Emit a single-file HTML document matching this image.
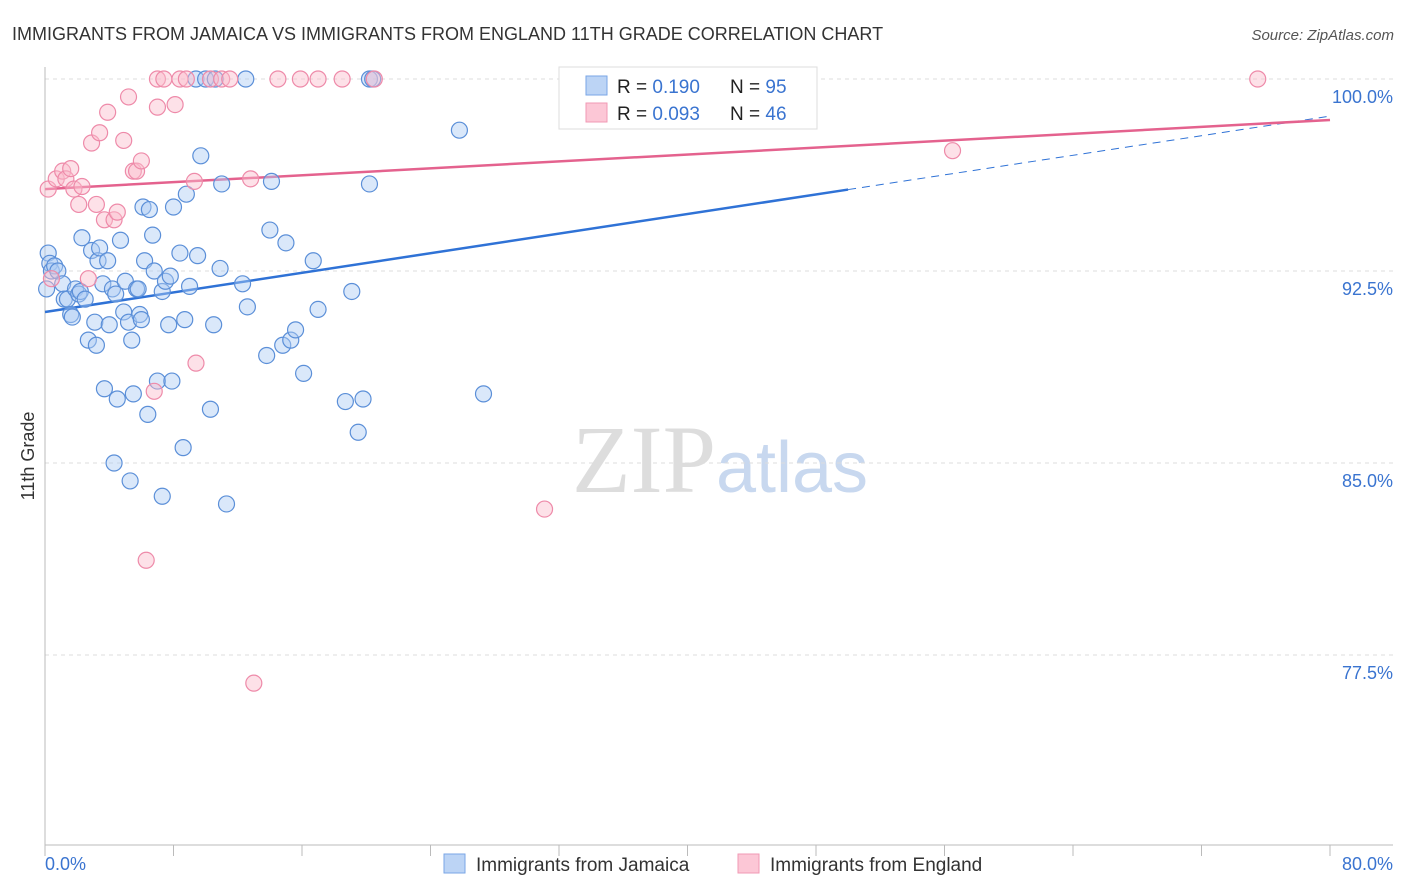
<!DOCTYPE html>
<html><head><meta charset="utf-8"><style>
body{margin:0;background:#fff;font-family:"Liberation Sans",sans-serif}
svg{display:block}
</style></head><body>
<svg id="c" width="1406" height="892" xmlns="http://www.w3.org/2000/svg">
<text x="12" y="40" font-size="18" fill="#333">IMMIGRANTS FROM JAMAICA VS IMMIGRANTS FROM ENGLAND 11TH GRADE CORRELATION CHART</text>
<text x="1394" y="40" font-size="15" fill="#555" text-anchor="end" font-style="italic">Source: ZipAtlas.com</text>
<text x="720" y="492" font-size="96" fill="#ddd" text-anchor="middle" font-family="Liberation Serif">ZIP<tspan fill="#c8d8ef" font-family="Liberation Sans" font-size="72">atlas</tspan></text>
<g id="grid"></g>
<g id="axes"></g>
<g id="lines"></g>
<g id="pts"></g>
<text transform="translate(34,456) rotate(-90)" font-size="18" fill="#333" text-anchor="middle">11th Grade</text>
<text x="45" y="870" font-size="18" fill="#3a74d0">0.0%</text>
<text x="1393" y="870" font-size="18" fill="#3a74d0" text-anchor="end">80.0%</text>
<g>
<rect x="559" y="67" width="258" height="62" fill="#fff" stroke="#ddd"/>
<rect x="586" y="76" width="21" height="19" fill="#bcd4f5" stroke="#7aa6e6"/>
<rect x="586" y="103" width="21" height="19" fill="#fcc7d6" stroke="#f199b4"/>
<text x="617" y="93" font-size="19" fill="#222">R = <tspan fill="#3a74d0">0.190</tspan></text>
<text x="730" y="93" font-size="19" fill="#222">N = <tspan fill="#3a74d0">95</tspan></text>
<text x="617" y="120" font-size="19" fill="#222">R = <tspan fill="#3a74d0">0.093</tspan></text>
<text x="730" y="120" font-size="19" fill="#222">N = <tspan fill="#3a74d0">46</tspan></text>
</g>
<g>
<rect x="444" y="854" width="21" height="19" fill="#bcd4f5" stroke="#7aa6e6"/>
<text x="476" y="871" font-size="19" fill="#333">Immigrants from Jamaica</text>
<rect x="738" y="854" width="21" height="19" fill="#fcc7d6" stroke="#f199b4"/>
<text x="770" y="871" font-size="19" fill="#333">Immigrants from England</text>
</g>
</svg>
<script>
const yTicks=[100,92.5,85,77.5];
const yTickLabels=["100.0%","92.5%","85.0%","77.5%"];
const blueX=[0.2,0.3,0.1,0.4,0.6,0.8,1.1,1.2,1.4,1.6,1.7,1.9,2.1,2.2,2.3,2.5,2.7,2.9,3.1,3.2,3.3,3.4,3.6,3.7,3.9,4.0,4.2,4.3,4.4,4.5,4.7,4.9,5.0,5.2,5.3,5.4,5.5,5.7,5.8,5.9,6.0,6.1,6.2,6.4,6.5,6.7,6.8,7.0,7.3,7.3,7.5,7.7,7.8,7.9,8.0,8.4,8.6,8.7,8.8,9.0,9.4,9.5,9.7,10.0,10.3,10.5,10.6,10.9,11.0,11.3,12.3,12.5,12.6,13.8,14.0,14.1,14.8,15.0,15.3,15.6,16.1,16.7,17.0,18.7,19.1,19.5,19.8,20.2,20.2,20.4,25.8,27.3,42.7];
const blueY=[93.2,92.8,91.8,92.5,92.7,92.5,92.0,91.4,91.4,90.8,90.7,91.8,91.6,91.7,93.8,91.4,89.8,93.3,90.5,89.6,92.9,93.4,92.0,87.9,92.9,90.4,91.8,85.0,91.6,87.5,93.7,90.9,92.1,90.5,84.3,89.8,87.7,91.8,91.8,90.8,90.6,95.0,92.9,86.9,94.9,93.9,92.5,88.2,91.7,83.7,92.1,90.4,92.3,88.2,95.0,93.2,85.6,90.6,95.5,91.9,100,93.1,97.0,100,87.1,90.4,100,92.6,95.9,83.4,92.0,100,91.1,89.2,94.1,96.0,89.6,93.6,89.8,90.2,88.5,92.9,91.0,87.4,91.7,86.2,87.5,95.9,100,100,98.0,87.7,100];
const pinkX=[0.2,0.4,0.7,1.1,1.3,1.6,1.8,2.1,2.3,2.7,2.9,3.2,3.4,3.7,3.9,4.3,4.5,4.9,5.2,5.5,5.7,6.0,6.3,6.8,7.0,7.0,7.4,8.1,8.4,8.8,9.3,9.4,10.3,11.0,11.5,12.8,13.0,14.5,15.9,17.0,18.5,20.5,31.1,33.1,56.5,75.5];
const pinkY=[95.7,92.2,96.1,96.4,96.1,96.5,95.7,95.1,95.8,92.2,97.5,95.1,97.9,94.5,98.7,94.5,94.8,97.6,99.3,96.4,96.4,96.8,81.2,87.8,100,98.9,100,99.0,100,100,96.0,88.9,100,100,100,96.1,76.4,100,100,100,100,100,83.2,100,97.2,100];
const blueTrend=[90.9,98.55];
const pinkTrend=[95.7,98.4];
const NS="http://www.w3.org/2000/svg";
const X=v=>45+v*(1285/80);
const Y=v=>79+(100-v)*25.6;
function mk(tag,attrs,parent){const e=document.createElementNS(NS,tag);for(const k in attrs)e.setAttribute(k,attrs[k]);document.getElementById(parent).appendChild(e);return e;}
yTicks.forEach((t,i)=>{
 const l=mk('line',{x1:45,x2:1393,y1:Y(t),y2:Y(t),stroke:'#ddd','stroke-dasharray':'4,4'},'grid');
 
 
 const tx=mk('text',{x:1393,y:Y(t)+24,'font-size':18,fill:'#3a74d0','text-anchor':'end'},'grid');
 tx.textContent=yTickLabels[i];
 
 
});
const ax=mk('line',{x1:45,x2:45,y1:67,y2:845,stroke:'#bbb'},'axes');


const bx=mk('line',{x1:45,x2:1393,y1:845,y2:845,stroke:'#bbb'},'axes');


for(let k=0;k<=10;k++){const t=mk('line',{x1:X(k*8),x2:X(k*8),y1:845,y2:856,stroke:'#bbb'},'axes');
 
 }
function pts(xs,ys,fill,stroke,name){xs.forEach((x,i)=>{const c=mk('circle',{cx:X(x),cy:Y(ys[i]),r:8,fill:fill,'fill-opacity':0.45,stroke:stroke,'stroke-width':1.2},'pts');
 
 });}
pts(blueX,blueY,'#aecbf3','#5b8fd8','jamaica-point');
pts(pinkX,pinkY,'#fbbccd','#ee8aa9','england-point');
const bf=v=>blueTrend[0]+(blueTrend[1]-blueTrend[0])*v/80;
const b1=mk('line',{x1:X(0),y1:Y(bf(0)),x2:X(50),y2:Y(bf(50)),stroke:'#2f72d6','stroke-width':2.5},'lines');


const b2=mk('line',{x1:X(50),y1:Y(bf(50)),x2:X(80),y2:Y(bf(80)),stroke:'#2f72d6','stroke-width':1,'stroke-dasharray':'8,6'},'lines');


const p1=mk('line',{x1:X(0),y1:Y(pinkTrend[0]),x2:X(80),y2:Y(pinkTrend[1]),stroke:'#e4628e','stroke-width':2.5},'lines');


</script>
</body></html>
